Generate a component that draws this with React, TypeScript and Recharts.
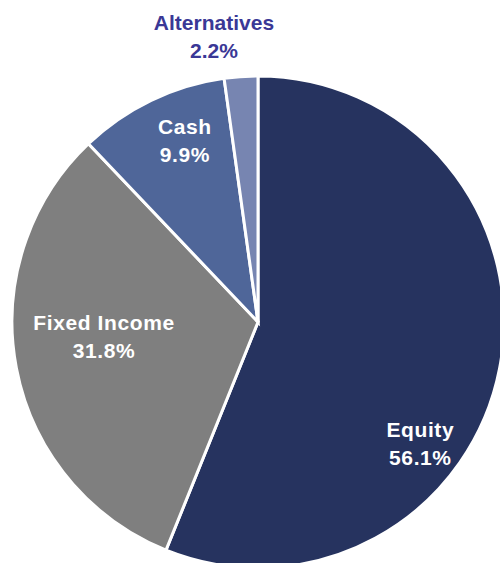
import { PieChart, Pie, Cell } from 'recharts';

const categories = ['Equity', 'Fixed Income', 'Cash', 'Alternatives'];
const shares = [56.1, 31.8, 9.9, 2.2];
const sliceColors = ['#26335f', '#7f7f7f', '#4f6699', '#7785b1'];
const labelColors = ['#ffffff', '#ffffff', '#ffffff', '#3a3896'];
// label anchor offsets, as fractions of the outer radius from the pie centre
const labelOffsets = [
    [0.66, 0.49],
    [-0.626, 0.057],
    [-0.297, -0.74],
    [-0.179, -1.163],
];

const data = categories.map((name, i) => ({ name, value: shares[i] }));

function renderLabel(props: any) {
    const { cx, cy, outerRadius, index, name, value } = props;
    const [fx, fy] = labelOffsets[index];
    const x = cx + fx * outerRadius;
    const y = cy + fy * outerRadius;
    return (
        <text
            x={x}
            y={y}
            textAnchor="middle"
            fill={labelColors[index]}
            fontFamily="'Liberation Sans', Arial, sans-serif"
            fontWeight="bold"
            fontSize={21}
            letterSpacing={index === 3 ? 0 : 0.6}
        >
            <tspan x={x} dy={-6}>{name}</tspan>
            <tspan x={x} dy={28}>{value.toFixed(1)}%</tspan>
        </text>
    );
}

export default function App() {
    return (
        <div style={{ position: 'absolute', left: 0, top: 0, width: 500, height: 563, background: '#fff' }}>
            <PieChart width={500} height={563} margin={{ top: 0, right: 0, bottom: 0, left: 0 }}>
                <Pie
                    data={data}
                    dataKey="value"
                    nameKey="name"
                    cx={258}
                    cy={322}
                    outerRadius={246}
                    startAngle={90}
                    endAngle={-270}
                    stroke="#ffffff"
                    strokeWidth={3}
                    label={renderLabel}
                    labelLine={false}
                    isAnimationActive={false}
                >
                    {data.map((d, i) => (
                        <Cell key={d.name} fill={sliceColors[i]} />
                    ))}
                </Pie>
            </PieChart>
        </div>
    );
}
